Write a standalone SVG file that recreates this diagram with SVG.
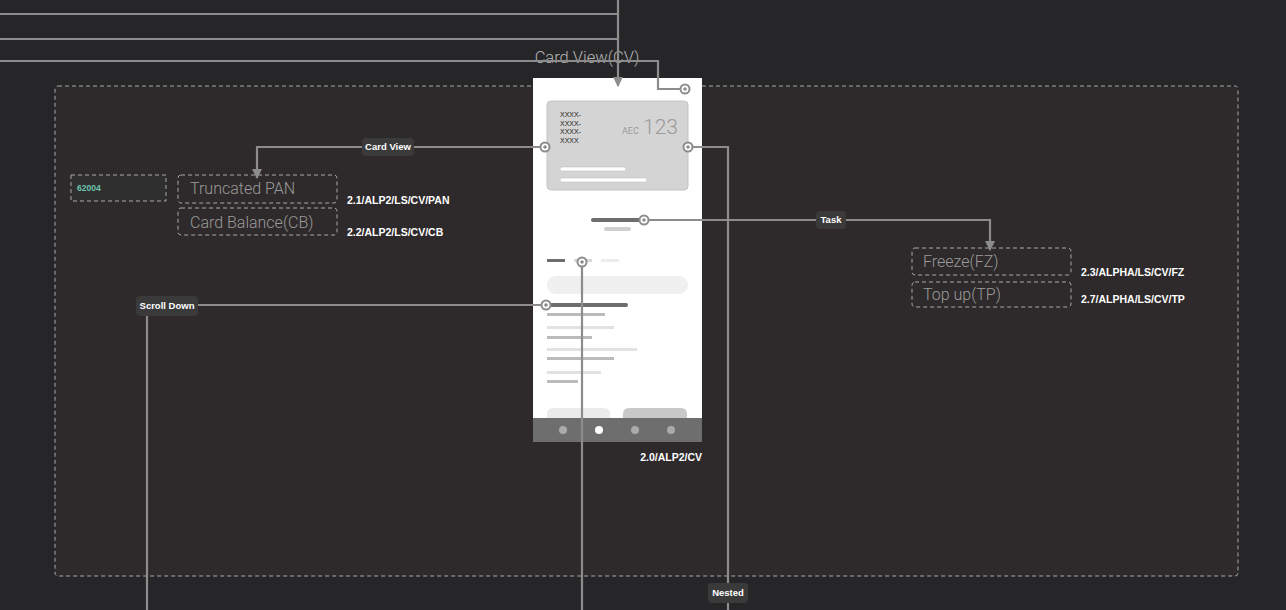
<svg xmlns="http://www.w3.org/2000/svg" width="1286" height="610" viewBox="0 0 1286 610">
<defs>
<style>
.dash{fill:none;stroke:#a8a8a8;stroke-width:1;stroke-dasharray:4 3}
.conn{fill:none;stroke:#8c8c8c;stroke-width:2.2}
.lbl{fill:#3a3a3a}
.lt{font-family:"Liberation Sans",Arial,sans-serif;font-size:9.5px;font-weight:bold;fill:#ffffff;text-anchor:middle}
.nt{font-family:Roboto,"Liberation Sans",sans-serif;font-size:16px;font-weight:300;fill:#9a9a9a}
.id{font-family:"Liberation Sans",Arial,sans-serif;font-size:10.5px;font-weight:bold;fill:#ffffff}
.dot{fill:#ffffff;stroke:#8c8c8c;stroke-width:2}
.dotc{fill:#8c8c8c}
</style>
<marker id="arr" viewBox="0 0 10 10" refX="9" refY="5" markerWidth="10" markerHeight="10" markerUnits="userSpaceOnUse" orient="auto">
<path d="M0,0 L10,5 L0,10 z" fill="#8c8c8c"/>
</marker>
</defs>
<rect x="0" y="0" width="1286" height="610" fill="#262629"/>
<rect x="55" y="86" width="1183" height="490" rx="3" class="dash" style="fill:#2e2a2b"/>

<g id="title">
<text x="587" y="63" font-family="Roboto,'Liberation Sans',sans-serif" font-size="16.5" font-weight="300" fill="#b4b4b4" text-anchor="middle">Card View(CV)</text>
</g>

<g id="phone">
<rect x="533" y="78" width="169" height="364" fill="#ffffff"/>
<rect x="547" y="101" width="141" height="89" rx="4" fill="#d4d4d4" stroke="#c4c4c4" stroke-width="1"/>
<g font-family="'Liberation Sans',Arial,sans-serif" font-size="7" fill="#222">
<text x="560" y="117">XXXX-</text>
<text x="560" y="126">XXXX-</text>
<text x="560" y="134">XXXX-</text>
<text x="560" y="143">XXXX</text>
</g>
<text x="622" y="134" font-family="Roboto,'Liberation Sans',sans-serif" font-size="9" fill="#9a9a9a">AEC</text>
<text x="643" y="134" font-family="Roboto,'Liberation Sans',sans-serif" font-size="21" font-weight="300" fill="#9a9a9a">123</text>
<rect x="560" y="167" width="66" height="4" rx="2" fill="#ffffff" stroke="#bbb" stroke-width="0.5"/>
<rect x="560" y="178" width="87" height="4" rx="2" fill="#ffffff" stroke="#bbb" stroke-width="0.5"/>
<rect x="591" y="218" width="53" height="4" rx="2" fill="#6e6e6e"/>
<rect x="604" y="227" width="27" height="4" rx="2" fill="#d0d0d0"/>
<rect x="547" y="259" width="18" height="3" fill="#6e6e6e"/>
<rect x="574" y="259" width="18" height="3" fill="#d8d8d8"/>
<rect x="601" y="259" width="18" height="3" fill="#ececec"/>
<rect x="547" y="276" width="141" height="18" rx="9" fill="#f0f0f0"/>
<rect x="547" y="303" width="81" height="4" rx="2" fill="#6e6e6e"/>
<rect x="547" y="313" width="58" height="3" fill="#bbbbbb"/>
<rect x="547" y="326" width="67" height="3" fill="#e2e2e2"/>
<rect x="547" y="336" width="45" height="3" fill="#bbbbbb"/>
<rect x="547" y="348" width="90" height="3" fill="#e2e2e2"/>
<rect x="547" y="357" width="67" height="3" fill="#bbbbbb"/>
<rect x="547" y="371" width="54" height="3" fill="#e2e2e2"/>
<rect x="547" y="380" width="31" height="3" fill="#bbbbbb"/>
<path d="M547,418 V414 Q547,408 553,408 H604 Q610,408 610,414 V418 Z" fill="#ebebeb"/>
<path d="M623,418 V414 Q623,408 629,408 H681 Q687,408 687,414 V418 Z" fill="#c8c8c8"/>
<rect x="533" y="418" width="169" height="24" fill="#6e6e6e"/>
<circle cx="563" cy="430" r="4" fill="#aaaaaa"/>
<circle cx="599" cy="430" r="4" fill="#ffffff"/>
<circle cx="635" cy="430" r="4" fill="#aaaaaa"/>
<circle cx="671" cy="430" r="4" fill="#aaaaaa"/>
<text x="702" y="461" class="id" text-anchor="end">2.0/ALP2/CV</text>
</g>

<g id="n62004">
<rect x="71" y="175" width="95" height="26" class="dash" style="fill:#2f2f30"/>
<text x="77" y="191" font-family="'Liberation Sans',Arial,sans-serif" font-size="8.5" font-weight="bold" fill="#6cc4ac">62004</text>
</g>
<g id="pan">
<rect x="178" y="175" width="159" height="28" rx="3" class="dash"/>
<text x="190" y="194" class="nt">Truncated PAN</text>
<text x="347" y="204" class="id">2.1/ALP2/LS/CV/PAN</text>
</g>
<g id="cb">
<rect x="178" y="208" width="159" height="27" rx="3" class="dash"/>
<text x="190" y="228" class="nt">Card Balance(CB)</text>
<text x="347" y="236" class="id">2.2/ALP2/LS/CV/CB</text>
</g>
<g id="fz">
<rect x="912" y="248" width="159" height="27" rx="3" class="dash"/>
<text x="923" y="267" class="nt">Freeze(FZ)</text>
<text x="1081" y="276" class="id">2.3/ALPHA/LS/CV/FZ</text>
</g>
<g id="tp">
<rect x="912" y="282" width="159" height="25" rx="3" class="dash"/>
<text x="923" y="300" class="nt">Top up(TP)</text>
<text x="1081" y="303" class="id">2.7/ALPHA/LS/CV/TP</text>
</g>

<g id="connectors">
<path class="conn" d="M0,14 H618"/>
<path class="conn" d="M0,39 H618"/>
<path class="conn" d="M618,0 V86" marker-end="url(#arr)"/>
<path class="conn" d="M0,61 H658 V89 H685"/>
<path class="conn" d="M545,147 H257 V178" marker-end="url(#arr)"/>
<path class="conn" d="M688,147 H728 V610"/>
<path class="conn" d="M644,220 H990 V250" marker-end="url(#arr)"/>
<path class="conn" d="M582,262 V610"/>
<path class="conn" d="M546,305 H147 V610"/>
<rect class="lbl" x="362" y="138" width="52" height="18" rx="4"/>
<text class="lt" x="388" y="150">Card View</text>
<rect class="lbl" x="816" y="211" width="30" height="18" rx="4"/>
<text class="lt" x="831" y="223">Task</text>
<rect class="lbl" x="136" y="296" width="62" height="20" rx="4"/>
<text class="lt" x="167" y="309">Scroll Down</text>
<rect class="lbl" x="708" y="583" width="40" height="20" rx="4"/>
<text class="lt" x="728" y="596">Nested</text>
<circle class="dot" cx="685" cy="89" r="4.5"/><circle class="dotc" cx="685" cy="89" r="1.8"/>
<circle class="dot" cx="545" cy="147" r="4.5"/><circle class="dotc" cx="545" cy="147" r="1.8"/>
<circle class="dot" cx="688" cy="147" r="4.5"/><circle class="dotc" cx="688" cy="147" r="1.8"/>
<circle class="dot" cx="644" cy="220" r="4.5"/><circle class="dotc" cx="644" cy="220" r="1.8"/>
<circle class="dot" cx="582" cy="262" r="4.5"/><circle class="dotc" cx="582" cy="262" r="1.8"/>
<circle class="dot" cx="546" cy="305" r="4.5"/><circle class="dotc" cx="546" cy="305" r="1.8"/>
</g>
</svg>
